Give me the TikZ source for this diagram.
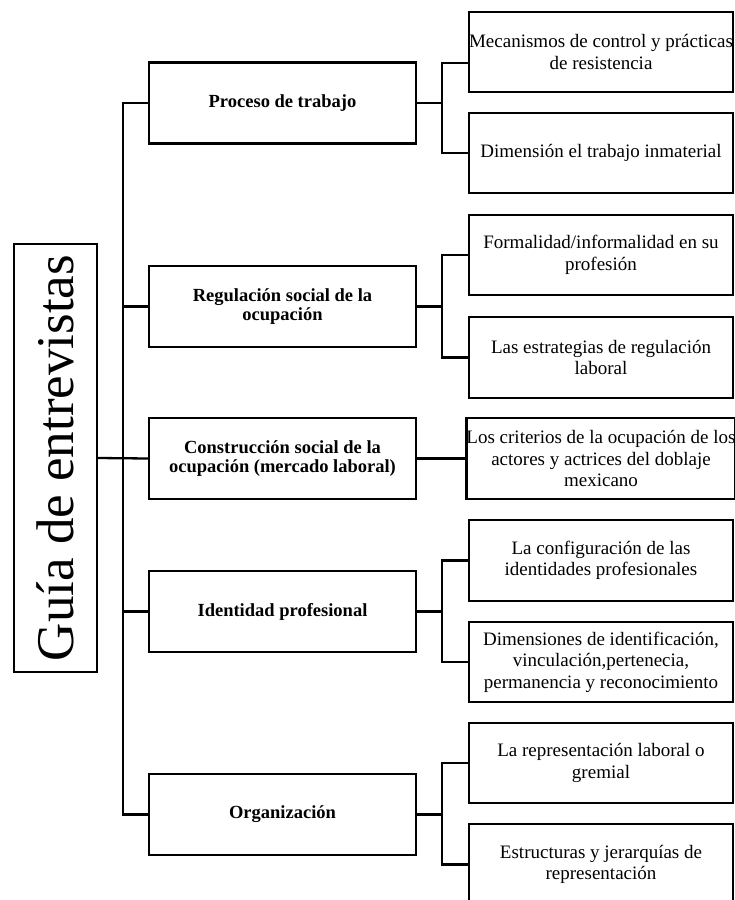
\documentclass[tikz,border=0pt]{standalone}
\usepackage{fontspec}
\setmainfont{Liberation Serif}
\begin{document}
\begin{tikzpicture}[x=1pt,y=-1pt,
  box/.style={draw, line width=2.3pt, inner sep=0pt, align=center},
  rootbox/.style={box, minimum width=83pt, minimum height=428pt,
    font=\fontsize{53}{60}\selectfont},
  topic/.style={box, minimum width=267pt, minimum height=81pt,
    font=\bfseries\fontsize{18.5}{19}\selectfont},
  item/.style={box, minimum width=264pt, minimum height=80pt,
    font=\fontsize{19}{21.5}\selectfont},
  link/.style={line width=2.3pt}]
\useasboundingbox (0,0) rectangle (735,900);

% root
\node[rootbox] (root) at (55.5,458) {\rotatebox{90}{Guía de entrevistas}};

% main topics
\node[topic] (p1) at (282.5,103)   {Proceso de trabajo};
\node[topic] (p2) at (282.5,306.5) {Regulación social de la\\ocupación};
\node[topic] (p3) at (282.5,458.5) {Construcción social de la\\ocupación (mercado laboral)};
\node[topic] (p4) at (282.5,611.5) {Identidad profesional};
\node[topic] (p5) at (282.5,814.5) {Organización};

% sub-items
\node[item] (c11) at (601,52)    {Mecanismos de control y prácticas\\de resistencia};
\node[item] (c12) at (601,153)   {Dimensión el trabajo inmaterial};
\node[item] (c21) at (601,255)   {Formalidad/informalidad en su\\profesión};
\node[item, minimum height=81pt] (c22) at (601,357.5) {Las estrategias de regulación\\laboral};
\node[item, minimum height=81pt] (c31) at (601,458.5) {Los criterios de la ocupación de los\\actores y actrices del doblaje\\mexicano};
\node[item, minimum height=81pt] (c41) at (601,560.5) {La configuración de las\\identidades profesionales};
\node[item] (c42) at (601,662)   {Dimensiones de identificación,\\vinculación,pertenecia,\\permanencia y reconocimiento};
\node[item] (c51) at (601,763)   {La representación laboral o\\gremial};
\node[item, minimum height=81pt] (c52) at (601,864.5) {Estructuras y jerarquías de\\representación};

% trunk
\coordinate (t) at (123,458);
\draw[link] (root.east) -- (p3.west);
\draw[link] (p1.west) -| (t) |- (p5.west);
\draw[link] (p2.west) -- (p2.west -| t);
\draw[link] (p4.west) -- (p4.west -| t);

% branches
\coordinate (j1) at (442,103);
\coordinate (j2) at (442,306.5);
\coordinate (j4) at (442,611.5);
\coordinate (j5) at (442,814.5);
\coordinate (k11) at (469,63);
\draw[link] (p1.east) -- (j1);
\draw[link] (k11) -| (j1) |- (c12.west);
\draw[link] (p2.east) -- (j2);
\draw[link] (c21.west) -| (j2) |- (c22.west);
\draw[link] (p3.east) -- (c31.west);
\draw[link] (p4.east) -- (j4);
\draw[link] (c41.west) -| (j4) |- (c42.west);
\draw[link] (p5.east) -- (j5);
\draw[link] (c51.west) -| (j5) |- (c52.west);
\end{tikzpicture}
\end{document}
